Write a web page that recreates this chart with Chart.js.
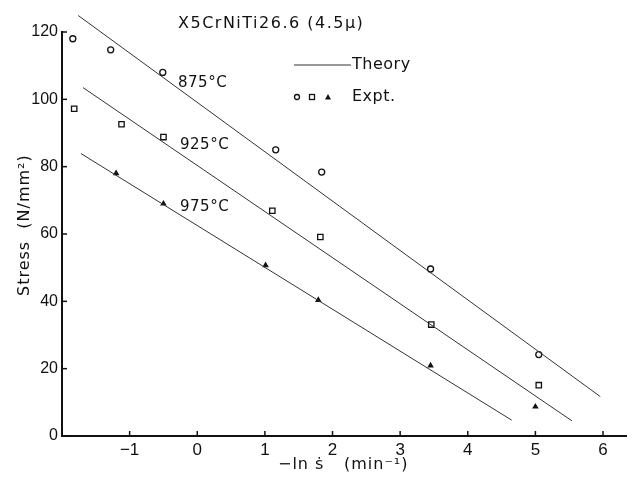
<!DOCTYPE html>
<html>
<head>
<meta charset="utf-8">
<script src="https://cdn.jsdelivr.net/npm/chart.js@4/dist/chart.umd.min.js"></script>
<style>
    html, body { margin: 0; padding: 0; background: #fff; }
    #wrap { width: 632px; height: 477px; }
</style>
</head>
<body>
<div id="wrap"><canvas id="stressChart" width="632" height="477"></canvas></div>
<script>
// Experimental points (x = -ln s', y = stress)
const expt875X = [-1.84, -1.28, -0.51, 1.16, 1.84, 3.45, 5.05];
const expt875Y = [118, 114.7, 108, 85, 78.4, 49.6, 24.2];
const expt925X = [-1.82, -1.12, -0.5, 1.11, 1.82, 3.46, 5.05];
const expt925Y = [97.2, 92.6, 88.8, 66.9, 59.1, 33.1, 15.1];
const expt975X = [-1.2, -0.5, 1.01, 1.79, 3.45, 5.0];
const expt975Y = [78, 69, 50.7, 40.4, 20.9, 8.7];

// Theory lines (end points)
const theory875X = [-1.76, 5.96];
const theory875Y = [124.9, 11.7];
const theory925X = [-1.69, 5.54];
const theory925Y = [103.5, 4.5];
const theory975X = [-1.72, 4.65];
const theory975Y = [83.9, 4.7];

const xTicks = [-1, 0, 1, 2, 3, 4, 5, 6];
const yTicks = [0, 20, 40, 60, 80, 100, 120];

const FONT = '"Liberation Sans", Arial, sans-serif';
const WIDE = '"DejaVu Sans", sans-serif';
const INK = '#111';

function pts(xs, ys) {
    return xs.map((x, i) => ({ x: x, y: ys[i] }));
}

function lineSet(xs, ys) {
    return {
        type: 'line',
        data: pts(xs, ys),
        borderColor: '#333',
        borderWidth: 1,
        pointRadius: 0,
        fill: false,
        clip: false
    };
}

function pointSet(xs, ys, style) {
    const radius = { circle: 3, rect: 3.8, triangle: 2.5 }[style];
    return {
        type: 'scatter',
        data: pts(xs, ys),
        pointStyle: style,
        pointRadius: radius,
        pointBorderWidth: 1.3,
        pointBorderColor: INK,
        pointBackgroundColor: style === 'triangle' ? INK : '#fff',
        clip: false
    };
}

// inward ticks, axis titles, text annotations and the legend
const extras = {
    id: 'extras',
    afterDraw(chart) {
        const ctx = chart.ctx;
        const xs = chart.scales.x, ys = chart.scales.y;
        ctx.save();
        ctx.strokeStyle = INK;
        ctx.lineWidth = 1.5;
        yTicks.forEach(v => {
            const py = ys.getPixelForValue(v);
            ctx.beginPath();
            ctx.moveTo(xs.left, py);
            ctx.lineTo(xs.left + 5, py);
            ctx.stroke();
        });
        xTicks.forEach(v => {
            const px = xs.getPixelForValue(v);
            ctx.beginPath();
            ctx.moveTo(px, ys.bottom);
            ctx.lineTo(px, ys.bottom - 5);
            ctx.stroke();
        });

        ctx.fillStyle = INK;
        ctx.textBaseline = 'middle';
        ctx.textAlign = 'left';

        ctx.font = '16px ' + WIDE;
        ctx.letterSpacing = '1.5px';
        ctx.fillText('X5CrNiTi26.6 (4.5\u03bc)', 178, 24);

        ctx.font = '15px ' + WIDE;
        ctx.letterSpacing = '0.5px';
        ctx.fillText('875\u00b0C', 178, 83);
        ctx.fillText('925\u00b0C', 180, 145);
        ctx.fillText('975\u00b0C', 180, 207);

        // axis titles
        ctx.font = '16px ' + WIDE;
        ctx.letterSpacing = '1px';
        ctx.fillText('\u2212ln \u1e61', 278, 465);
        ctx.fillText('(min\u207b\u00b9)', 344, 465);
        ctx.save();
        ctx.translate(25, 296);
        ctx.rotate(-Math.PI / 2);
        ctx.fillText('Stress  (N/mm\u00b2)', 0, 0);
        ctx.restore();

        // legend
        ctx.lineWidth = 1;
        ctx.strokeStyle = '#333';
        ctx.beginPath();
        ctx.moveTo(294, 65);
        ctx.lineTo(351, 65);
        ctx.stroke();
        ctx.font = '16px ' + WIDE;
        ctx.letterSpacing = '0.5px';
        ctx.fillText('Theory', 352, 65);
        ctx.fillText('Expt.', 352, 97);
        ctx.lineWidth = 1.3;
        ctx.strokeStyle = INK;
        ctx.beginPath();
        ctx.arc(297, 97, 2.5, 0, Math.PI * 2);
        ctx.stroke();
        ctx.strokeRect(309.5, 94.5, 5, 5);
        ctx.beginPath();
        ctx.moveTo(328, 94);
        ctx.lineTo(331, 99.5);
        ctx.lineTo(325, 99.5);
        ctx.closePath();
        ctx.fill();
        ctx.restore();
    }
};

new Chart(document.getElementById('stressChart'), {
    data: {
        datasets: [
            lineSet(theory875X, theory875Y),
            lineSet(theory925X, theory925Y),
            lineSet(theory975X, theory975Y),
            pointSet(expt875X, expt875Y, 'circle'),
            pointSet(expt925X, expt925Y, 'rect'),
            pointSet(expt975X, expt975Y, 'triangle')
        ]
    },
    options: {
        responsive: false,
        animation: false,
        layout: { padding: { top: 32, right: 2, left: 0, bottom: 0 } },
        plugins: { legend: { display: false }, tooltip: { enabled: false } },
        scales: {
            x: {
                type: 'linear',
                min: -2,
                max: 6.35,
                afterBuildTicks: s => { s.ticks = xTicks.map(v => ({ value: v })); },
                afterFit: s => { s.height = 41; },
                grid: { display: true, drawOnChartArea: false, drawTicks: false },
                border: { display: true, color: INK, width: 2 },
                ticks: {
                    color: INK,
                    font: { family: FONT, size: 17 },
                    padding: 4,
                    maxRotation: 0,
                    callback: v => (v < 0 ? '\u2212' + Math.abs(v) : String(v))
                }
            },
            y: {
                type: 'linear',
                min: 0,
                max: 120,
                afterBuildTicks: s => { s.ticks = yTicks.map(v => ({ value: v })); },
                afterFit: s => { s.width = 62; },
                grid: { display: true, drawOnChartArea: false, drawTicks: false },
                border: { display: true, color: INK, width: 2 },
                ticks: {
                    color: INK,
                    font: { family: FONT, size: 16 },
                    padding: 4
                }
            }
        }
    },
    plugins: [extras]
});
</script>
</body>
</html>
